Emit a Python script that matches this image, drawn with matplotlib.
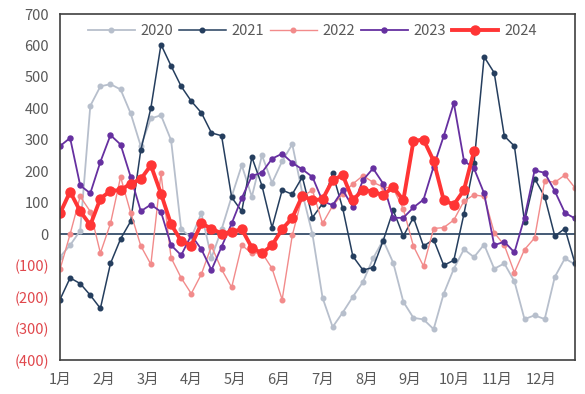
import numpy as np
import matplotlib
matplotlib.use("Agg")
import matplotlib.pyplot as plt
from matplotlib.ticker import FuncFormatter

plt.rcParams['font.family'] = ['Noto Sans CJK SC', 'DejaVu Sans']

# weekly values, week index 0..51
y2020 = [-72, -35, 11, 408, 470, 477, 460, 384, 280, 368, 378, 299, 15, -10, 66, -75,
         15, 120, 219, 119, 251, 163, 232, 286, 130, 0, -202, -295, -249, -199, -152, -77,
         -19, -91, -215, -266, -271, -302, -189, -110, -48, -73, -33, -110, -93, -150, -270, -258,
         -270, -136, -77, -96]
y2021 = [-208, -139, -157, -194, -236, -93, -15, 41, 267, 401, 603, 535, 470, 423, 386, 322,
         313, 117, 73, 245, 154, 21, 140, 127, 182, 53, 97, 193, 82, -70, -114, -106,
         -21, 76, -6, 53, -38, -17, -99, -83, 64, 225, 564, 513, 312, 280, 40, 177,
         119, -6, 18, -93]
y2022 = [-112, 0, 120, 72, -60, 34, 182, 68, -37, -96, 193, -75, -139, -189, -127, -38,
         -112, -169, -35, -61, -59, -109, -208, -4, 120, 140, 34, 90, 129, 160, 186, 165,
         150, 145, 80, -38, -102, 18, 21, 45, 105, 125, 120, 5, -35, -122, -49, -12,
         170, 165, 188, 147]
y2023 = [280, 306, 155, 130, 230, 315, 285, 182, 73, 94, 71, -35, -67, -3, -48, -114,
         -40, 34, 115, 185, 196, 240, 256, 227, 206, 182, 105, 92, 140, 87, 172, 209,
         161, 52, 52, 85, 110, 215, 312, 417, 234, 209, 130, -35, -24, -58, 53, 203,
         195, 137, 68, 50]
y2024 = [66, 135, 73, 29, 113, 138, 140, 161, 175, 219, 129, 31, -21, -36, 34, 18,
         2, 7, 16, -43, -61, -35, 16, 52, 122, 108, 111, 172, 188, 108, 142, 135,
         124, 150, 108, 296, 301, 233, 108, 94, 140, 264]

months = ['1月', '2月', '3月', '4月', '5月', '6月', '7月', '8月', '9月', '10月', '11月', '12月']

label_color = '#595959'
neg_color = '#e0474c'

fig = plt.figure(figsize=(5.85, 3.94), dpi=100)
ax = fig.add_axes([60 / 585, 1 - 360 / 394, 515 / 585, 346 / 394])

series = [
    ('2020', y2020, '#b7bfcc', 1.3, 3.3),
    ('2021', y2021, '#253e5e', 1.1, 3.3),
    ('2022', y2022, '#f28b8b', 1.0, 3.3),
    ('2023', y2023, '#6630a0', 1.3, 3.6),
    ('2024', y2024, '#ff3535', 2.8, 6.5),
]
for name, vals, color, lw, ms in series:
    ax.plot(np.arange(len(vals)), vals, color=color, lw=lw, marker='o',
            markersize=ms, label=name)

ax.axhline(0, color='#253e5e', lw=1.2, zorder=1)

ax.set_xlim(0, 51)
ax.set_ylim(-400, 700)
ax.set_yticks(range(-400, 701, 100))
ax.yaxis.set_major_formatter(FuncFormatter(lambda v, p: f'({abs(int(v))})' if v < 0 else f'{int(v)}'))
ax.set_xticks([k * 52 / 12 for k in range(12)])
ax.set_xticklabels(months)

ax.tick_params(axis='both', length=0, labelsize=10.5, colors=label_color)
ax.tick_params(axis='y', pad=8)
ax.tick_params(axis='x', pad=9)
for lbl, v in zip(ax.get_yticklabels(), ax.get_yticks()):
    if v < 0:
        lbl.set_color(neg_color)

for s in ax.spines.values():
    s.set_color('#404040')
    s.set_linewidth(1.2)

leg = ax.legend(loc='upper center', bbox_to_anchor=(0.49, 1.01), ncol=5, frameon=False,
                fontsize=10.5, handlelength=3.2, handletextpad=0.4, columnspacing=0.4)
for t in leg.get_texts():
    t.set_color(label_color)

fig.savefig('out.png', dpi=100)
